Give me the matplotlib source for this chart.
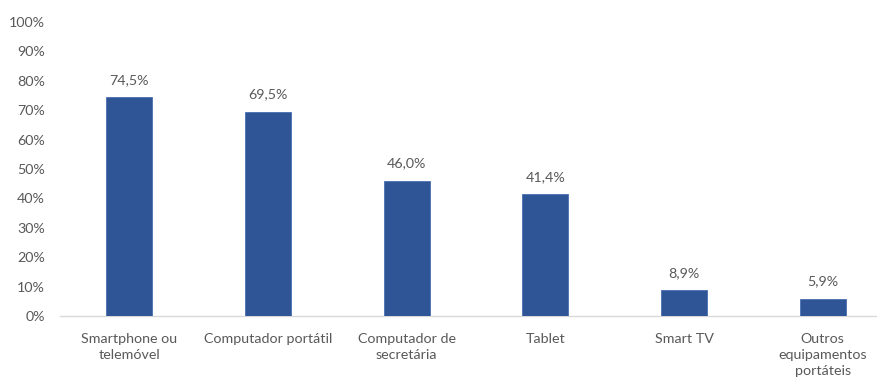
import matplotlib
matplotlib.use("Agg")
import matplotlib.pyplot as plt

# dispositivos e percentagens
categorias = ["Smartphone ou\ntelemóvel", "Computador portátil", "Computador de\nsecretária",
              "Tablet", "Smart TV", "Outros\nequipamentos\nportáteis"]
valores = [74.5, 69.5, 46.0, 41.4, 8.9, 5.9]
yticks = list(range(0, 101, 10))

plt.rcParams['font.family'] = ['Lato', 'DejaVu Sans']
cinza = '#595959'

fig = plt.figure(figsize=(8.77, 3.8), dpi=100)
ax = fig.add_axes([60/877, 64/380, 832/877, 294/380])

x = range(len(valores))
ax.bar(x, valores, width=0.33, color='#2F5597', edgecolor='#4a6fb0', linewidth=0.6, zorder=3)

for i, v in zip(x, valores):
    ax.annotate(f"{v:.1f}%".replace('.', ','), (i, v), xytext=(0, 8), textcoords='offset points',
                ha='center', va='bottom', fontsize=10.3, color=cinza)

ax.set_xlim(-0.5, len(valores) - 0.5)
ax.set_ylim(0, 100)
ax.set_yticks(yticks)
ax.set_yticklabels([f"{t}%" for t in yticks], fontsize=10.3, color=cinza)
ax.set_xticks(list(x))
ax.set_xticklabels(categorias, fontsize=10.3, color=cinza, linespacing=1.4)
ax.tick_params(axis='both', length=0)
ax.tick_params(axis='y', pad=11)
ax.tick_params(axis='x', pad=12)

for s in ['top', 'right', 'left']:
    ax.spines[s].set_visible(False)
ax.spines['bottom'].set_color('#d9d9d9')
ax.spines['bottom'].set_linewidth(1)

fig.savefig("out.png", dpi=100)
